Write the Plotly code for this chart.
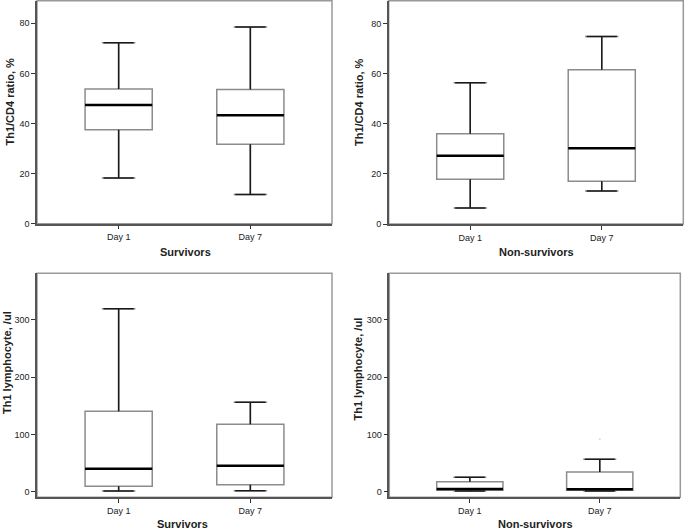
import plotly.graph_objects as go

W, H = 685, 530

days = ["Day 1", "Day 7"]
pos = [0, 1]

# Th1/CD4 ratio, % — Survivors
ratio_surv_low = [18.2, 11.7]
ratio_surv_q1 = [37.5, 31.7]
ratio_surv_med = [47.4, 43.3]
ratio_surv_q3 = [53.8, 53.6]
ratio_surv_high = [72.3, 78.5]

# Th1/CD4 ratio, % — Non-survivors
ratio_nons_low = [6.4, 13.2]
ratio_nons_q1 = [17.8, 17.0]
ratio_nons_med = [27.2, 30.2]
ratio_nons_q3 = [36.0, 61.5]
ratio_nons_high = [56.3, 74.8]

# Th1 lymphocyte, /ul — Survivors
th1_surv_low = [1.2, 1.7]
th1_surv_q1 = [9.4, 12.2]
th1_surv_med = [40.1, 45.4]
th1_surv_q3 = [140.3, 117.6]
th1_surv_high = [319.0, 156.0]

# Th1 lymphocyte, /ul — Non-survivors
th1_nons_low = [1.2, 1.2]
th1_nons_q1 = [2.4, 2.6]
th1_nons_med = [4.7, 4.1]
th1_nons_q3 = [17.5, 34.4]
th1_nons_high = [25.1, 56.5]
th1_nons_outlier_x = [1]
th1_nons_outlier_y = [91.4]

ratio_ticks = [0, 20, 40, 60, 80]
th1_ticks = [0, 100, 200, 300]

panels = [
    dict(ax="", low=ratio_surv_low, q1=ratio_surv_q1, med=ratio_surv_med, q3=ratio_surv_q3, high=ratio_surv_high,
         xdom=[37 / W, 332 / W], ydom=[1 - 223.7 / H, 1 - 0.8 / H], yr=[0, 89.0], ticks=ratio_ticks,
         ytitle="Th1/CD4 ratio, %", xtitle="Survivors", ytx=9.5, yty=102, xtx=185, xty=252),
    dict(ax="2", low=ratio_nons_low, q1=ratio_nons_q1, med=ratio_nons_med, q3=ratio_nons_q3, high=ratio_nons_high,
         xdom=[388.7 / W, 683.3 / W], ydom=[1 - 224 / H, 1 - 0.8 / H], yr=[0, 89.0], ticks=ratio_ticks,
         ytitle="Th1/CD4 ratio, %", xtitle="Non-survivors", ytx=359, yty=102, xtx=536.5, xty=252),
    dict(ax="3", low=th1_surv_low, q1=th1_surv_q1, med=th1_surv_med, q3=th1_surv_q3, high=th1_surv_high,
         xdom=[37 / W, 332 / W], ydom=[1 - 497.3 / H, 1 - 273.3 / H], yr=[-9.8, 381], ticks=th1_ticks,
         ytitle="Th1 lymphocyte, /ul", xtitle="Survivors", ytx=6.5, yty=362.5, xtx=183, xty=524),
    dict(ax="4", low=th1_nons_low, q1=th1_nons_q1, med=th1_nons_med, q3=th1_nons_q3, high=th1_nons_high,
         xdom=[389.3 / W, 680.3 / W], ydom=[1 - 497.3 / H, 1 - 273.3 / H], yr=[-9.8, 381], ticks=th1_ticks,
         ytitle="Th1 lymphocyte, /ul", xtitle="Non-survivors", ytx=357.5, yty=369, xtx=535, xty=524),
]

fig = go.Figure()
FONT = "Liberation Sans, Arial, sans-serif"
box_w = 0.51
cap = 0.115
annotations = []
shapes = []
layout = {}

for p in panels:
    xa = "x" + p["ax"]
    ya = "y" + p["ax"]
    fig.add_trace(go.Box(
        x=pos, q1=p["q1"], median=p["med"], q3=p["q3"],
        lowerfence=p["low"], upperfence=p["high"],
        width=box_w, boxpoints=False, fillcolor="white",
        line=dict(color="#8c8c8c", width=1.5),
        xaxis=xa, yaxis=ya, showlegend=False, hoverinfo="skip",
    ))
    wx, wy = [], []
    for i, x in enumerate(pos):
        wx += [x, x, None, x, x, None,
               x - cap, x + cap, None, x - cap, x + cap, None]
        wy += [p["q3"][i], p["high"][i], None, p["q1"][i], p["low"][i], None,
               p["high"][i], p["high"][i], None, p["low"][i], p["low"][i], None]
    fig.add_trace(go.Scatter(x=wx, y=wy, mode="lines", line=dict(color="#1a1a1a", width=1.5),
                             xaxis=xa, yaxis=ya, showlegend=False, hoverinfo="skip"))
    mx, my = [], []
    for i, x in enumerate(pos):
        mx += [x - box_w / 2, x + box_w / 2, None]
        my += [p["med"][i], p["med"][i], None]
    fig.add_trace(go.Scatter(x=mx, y=my, mode="lines", line=dict(color="#000000", width=2.5),
                             xaxis=xa, yaxis=ya, showlegend=False, hoverinfo="skip"))

    ax_key = "xaxis" + p["ax"]
    ay_key = "yaxis" + p["ax"]
    layout[ax_key] = dict(
        domain=p["xdom"], anchor=ya, range=[-0.62, 1.62], tickmode="array",
        tickvals=pos, ticktext=days, ticks="outside", ticklen=4, tickwidth=1, tickcolor="#333",
        showline=True, linecolor="#555", linewidth=1.5, showgrid=False, zeroline=False,
        tickfont=dict(family=FONT, size=9, color="#222"), fixedrange=True, automargin=False,
    )
    layout[ay_key] = dict(
        domain=p["ydom"], anchor=xa, range=p["yr"], tickmode="array",
        tickvals=p["ticks"], ticks="outside", ticklen=4, tickwidth=1, tickcolor="#333",
        showline=True, linecolor="#555", linewidth=1.5, showgrid=False, zeroline=False,
        tickfont=dict(family=FONT, size=9, color="#222"), fixedrange=True, automargin=False,
    )
    shapes.append(dict(type="rect", xref=xa + " domain", yref=ya + " domain", x0=0, x1=1, y0=0, y1=1,
                       line=dict(color="#999999", width=1.5), layer="below"))
    annotations.append(dict(text="<b>" + p["ytitle"] + "</b>", x=p["ytx"] / W, y=1 - p["yty"] / H,
                            xref="paper", yref="paper", textangle=-90, showarrow=False,
                            xanchor="center", yanchor="middle",
                            font=dict(family=FONT, size=11, color="#222")))
    annotations.append(dict(text="<b>" + p["xtitle"] + "</b>", x=p["xtx"] / W, y=1 - p["xty"] / H,
                            xref="paper", yref="paper", showarrow=False, xanchor="center", yanchor="middle",
                            font=dict(family=FONT, size=11, color="#222")))

fig.add_trace(go.Scatter(x=th1_nons_outlier_x, y=th1_nons_outlier_y, mode="markers",
                         marker=dict(size=2, color="#d8d8d8"), xaxis="x4", yaxis="y4",
                         showlegend=False, hoverinfo="skip"))

fig.update_layout(
    width=W, height=H, margin=dict(l=0, r=0, t=0, b=0, autoexpand=False),
    paper_bgcolor="white", plot_bgcolor="white",
    annotations=annotations, shapes=shapes, showlegend=False,
    **layout,
)

fig.write_html("out.html", config={"displayModeBar": False},
               post_script="document.body.style.margin='0';document.body.style.padding='0';")
